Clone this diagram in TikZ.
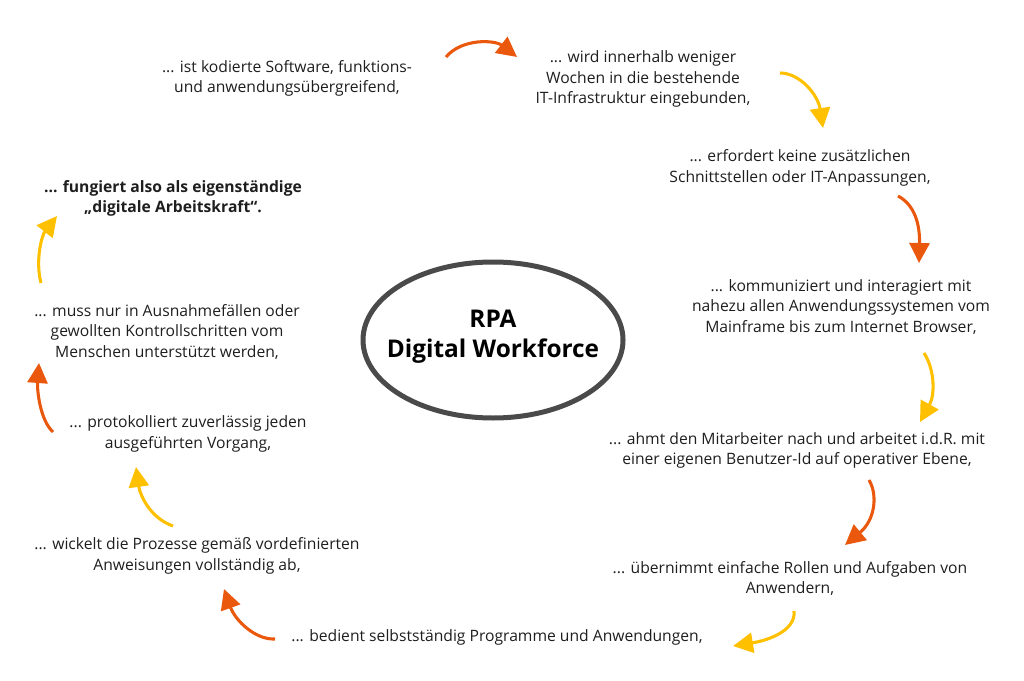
\documentclass[tikz,border=0pt]{standalone}
\usepackage{fontspec}
\setmainfont{Open Sans}
\usetikzlibrary{arrows.meta,shapes.geometric}
\definecolor{arrorange}{HTML}{E9580C}
\definecolor{arryellow}{HTML}{FFC000}
\definecolor{txt}{HTML}{1E1E1E}
\definecolor{ringgray}{HTML}{4A4A4A}
\tikzset{
  lbl/.style={align=center, text=txt, font=\fontsize{11.75}{15.4}\selectfont, inner sep=0pt},
  lblbold/.style={lbl, font=\fontsize{11.75}{15.4}\selectfont\bfseries},
  core/.style={ellipse, draw=ringgray, line width=3.75pt, minimum width=195pt, minimum height=117pt, inner sep=0pt},
  coretext/.style={align=center, font=\fontsize{18.3}{22.5}\selectfont\bfseries, text=black, inner sep=0pt},
  arrO/.style={draw=arrorange, line width=2.3pt, -{Triangle[length=15pt,width=15pt]}},
  arrY/.style={draw=arryellow, line width=2.3pt, -{Triangle[length=15pt,width=15pt]}},
}
\begin{document}
\begin{tikzpicture}[x=0.75pt,y=-0.75pt]
\useasboundingbox (0,0) rectangle (1024,681);
\node[core] (rpa) at (493,340) {};
\node[coretext] (rpalabel) at (493,337) {RPA\\Digital Workforce};
\node[lbl] (t1) at (287,78.5) {... ist kodierte Software, funktions-\\und anwendungsübergreifend,};
\node[lbl] (t2) at (643,79) {... wird innerhalb weniger\\Wochen in die bestehende\\IT-Infrastruktur eingebunden,};
\node[lbl] (t3) at (800,168) {... erfordert keine zusätzlichen\\Schnittstellen oder IT-Anpassungen,};
\node[lbl] (t4) at (841,307) {... kommuniziert und interagiert mit\\nahezu allen Anwendungssystemen vom\\Mainframe bis zum Internet Browser,};
\node[lbl] (t5) at (797,450.5) {... ahmt den Mitarbeiter nach und arbeitet i.d.R. mit\\einer eigenen Benutzer-Id auf operativer Ebene,};
\node[lbl] (t6) at (790,578.5) {... übernimmt einfache Rollen und Aufgaben von\\Anwendern,};
\node[lbl] (t7) at (497,637) {... bedient selbstständig Programme und Anwendungen,};
\node[lbl] (t8) at (197,556) {... wickelt die Prozesse gemäß vordefinierten\\Anweisungen vollständig ab,};
\node[lbl] (t9) at (188,434) {... protokolliert zuverlässig jeden\\ausgeführten Vorgang,};
\node[lbl] (t10) at (167,332) {... muss nur in Ausnahmefällen oder\\gewollten Kontrollschritten vom\\Menschen unterstützt werden,};
\node[lblbold] (t11) at (173,198.5) {... fungiert also als eigenständige\\„digitale Arbeitskraft“.};
% arrow end points
\coordinate (a1s) at (446,57); \coordinate (a1e) at (517,57);
\coordinate (a2s) at (780,73); \coordinate (a2e) at (823,128);
\coordinate (a3s) at (898,196); \coordinate (a3e) at (919,263);
\coordinate (a4s) at (924,353); \coordinate (a4e) at (920,422);
\coordinate (a5s) at (869,480); \coordinate (a5e) at (845,545);
\coordinate (a6s) at (794,611); \coordinate (a6e) at (733,646);
\coordinate (a7s) at (275,639); \coordinate (a7e) at (224,589);
\coordinate (a8s) at (173,526); \coordinate (a8e) at (136,467);
\coordinate (a9s) at (53,432); \coordinate (a9e) at (39,363);
\coordinate (a10s) at (41,283); \coordinate (a10e) at (57,216);
\draw[arrO] (a1s) .. controls (462,38) and (495,40) .. (a1e);
\draw[arrY] (a2s) .. controls (800,73) and (818,95) .. (a2e);
\draw[arrO] (a3s) .. controls (915,205) and (920,225) .. (a3e);
\draw[arrY] (a4s) .. controls (935,370) and (935,395) .. (a4e);
\draw[arrO] (a5s) .. controls (878,495) and (875,520) .. (a5e);
\draw[arrY] (a6s) .. controls (796,630) and (770,640) .. (a6e);
\draw[arrO] (a7s) .. controls (255,640) and (235,620) .. (a7e);
\draw[arrY] (a8s) .. controls (150,518) and (140,495) .. (a8e);
\draw[arrO] (a9s) .. controls (40,420) and (37,390) .. (a9e);
\draw[arrY] (a10s) .. controls (35,260) and (42,235) .. (a10e);
\end{tikzpicture}
\end{document}
